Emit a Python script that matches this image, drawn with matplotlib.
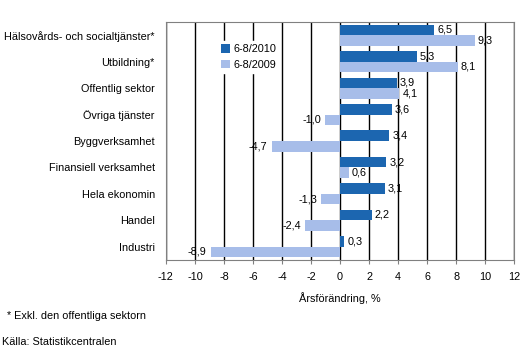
import matplotlib.pyplot as plt
import numpy as np

plt.rcParams["font.family"] = ["Liberation Sans", "DejaVu Sans"]

categories = [
    "Hälsovårds- och socialtjänster*",
    "Utbildning*",
    "Offentlig sektor",
    "Övriga tjänster",
    "Byggverksamhet",
    "Finansiell verksamhet",
    "Hela ekonomin",
    "Handel",
    "Industri",
]
values_2010 = [6.5, 5.3, 3.9, 3.6, 3.4, 3.2, 3.1, 2.2, 0.3]
values_2009 = [9.3, 8.1, 4.1, -1.0, -4.7, 0.6, -1.3, -2.4, -8.9]
xticks = list(range(-12, 13, 2))

dark = "#1c66b0"
light = "#a7bde9"

fig = plt.figure(figsize=(5.3, 3.58), dpi=100)
ax = fig.add_axes([0.313, 0.274, 0.657, 0.6645])

y = np.arange(len(categories))
h = 0.4
b1 = ax.barh(y - h / 2, values_2010, height=h, color=dark, label="6-8/2010", zorder=3)
b2 = ax.barh(y + h / 2, values_2009, height=h, color=light, label="6-8/2009", zorder=3)

fs = 7.8
for bars, vals in ((b1, values_2010), (b2, values_2009)):
    for bar, v in zip(bars, vals):
        yc = bar.get_y() + bar.get_height() / 2
        txt = f"{v:.1f}".replace(".", ",")
        if v >= 0:
            ax.annotate(txt, (v, yc), xytext=(2, 0), textcoords="offset points",
                        ha="left", va="center", fontsize=fs, zorder=4)
        else:
            ax.annotate(txt, (v, yc), xytext=(-3, 0), textcoords="offset points",
                        ha="right", va="center", fontsize=fs, zorder=4)

ax.set_xlim(-12, 12)
ax.set_ylim(len(categories) - 0.5, -0.5)
ax.set_xticks(xticks)
ax.set_xticklabels([str(t) for t in xticks], fontsize=fs)
ax.set_yticks(y)
ax.set_yticklabels(categories, fontsize=fs)
ax.tick_params(axis="y", length=0, pad=8)
ax.tick_params(axis="x", length=3, color="#808080", pad=6)
ax.xaxis.grid(True, color="black", linewidth=1, zorder=1)
ax.set_axisbelow(True)
for s in ax.spines.values():
    s.set_color("#808080")

ax.set_xlabel("Årsförändring, %", fontsize=fs, labelpad=7)

leg = ax.legend(loc="upper left", bbox_to_anchor=(0.15, 0.92), frameon=True,
                fontsize=fs, handlelength=0.8, handleheight=0.8, handletextpad=0.3,
                borderpad=0.3, labelspacing=0.5, borderaxespad=0, fancybox=False)
leg.get_frame().set_edgecolor("white")
leg.get_frame().set_facecolor("white")
leg.get_frame().set_alpha(1)
leg.set_zorder(5)

fig.text(0.013, 0.117, "* Exkl. den offentliga sektorn", fontsize=fs, va="center")
fig.text(0.004, 0.045, "Källa: Statistikcentralen", fontsize=fs, va="center")

fig.savefig("out.png", dpi=100)
plt.close(fig)
